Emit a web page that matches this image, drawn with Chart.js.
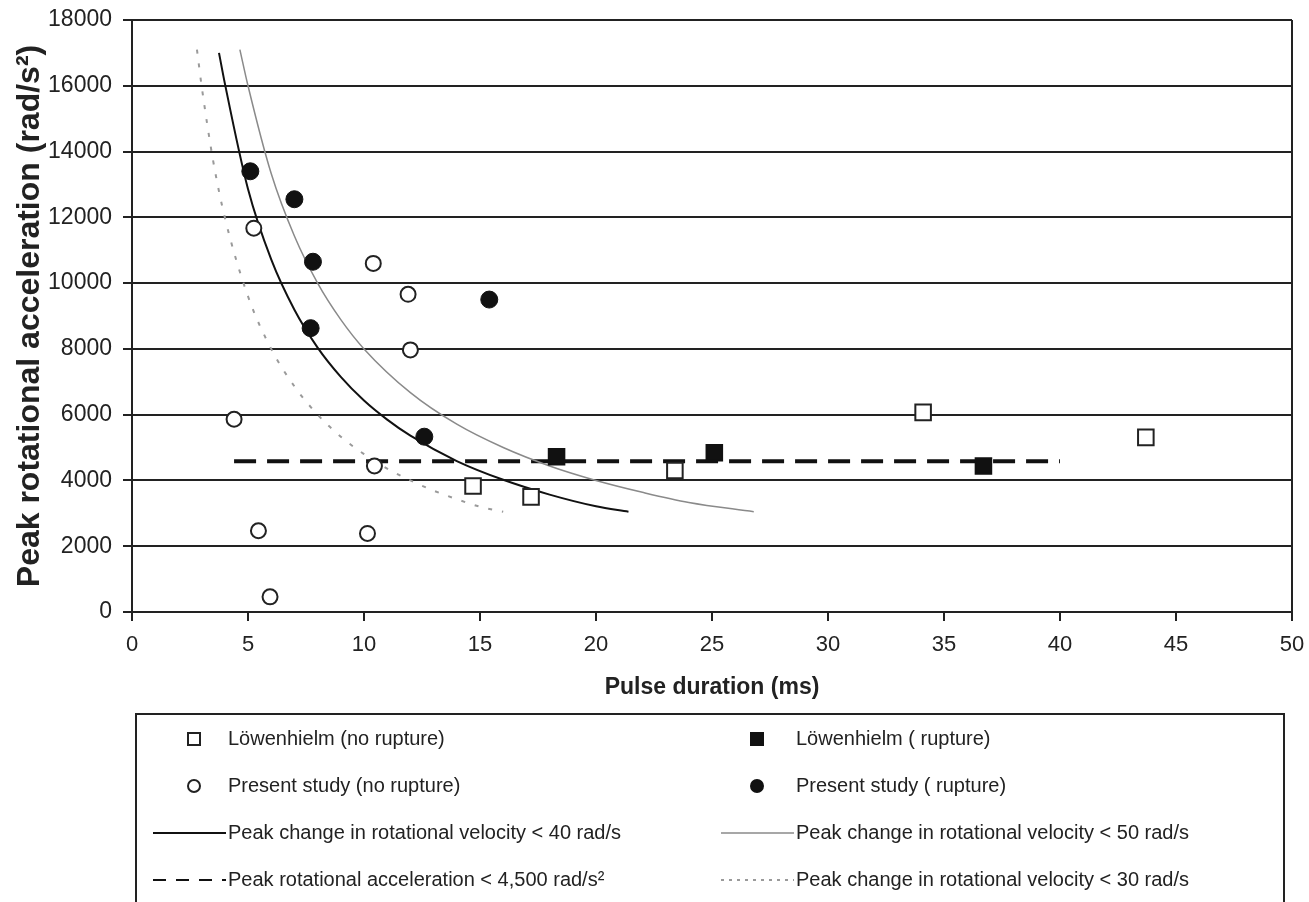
<!DOCTYPE html>
<html>
<head>
<meta charset="utf-8">
<script src="https://cdn.jsdelivr.net/npm/chart.js@4/dist/chart.umd.min.js"></script>
<style>
  body { margin: 0; background: #fff; }
  canvas { display: block; }
</style>
</head>
<body>
<canvas id="chart" width="1309" height="902"></canvas>
<script>
var FONT = '"Liberation Sans", Arial, sans-serif';

// Löwenhielm data (squares)
var lowNoRuptureX = [14.7, 17.2, 23.4, 34.1, 43.7];
var lowNoRuptureY = [3830, 3500, 4300, 6070, 5310];
var lowRuptureX = [18.3, 25.1, 36.7];
var lowRuptureY = [4720, 4840, 4440];

// present study (circles)
var presNoRuptureX = [5.25, 10.4, 11.9, 12.0, 4.4, 10.45, 5.45, 10.15, 5.95];
var presNoRuptureY = [11670, 10600, 9660, 7970, 5860, 4440, 2470, 2390, 460];
var presRuptureX = [5.1, 7.0, 7.8, 7.7, 15.4, 12.6];
var presRuptureY = [13400, 12550, 10650, 8630, 9500, 5330];

// threshold curves
var curve40X = [3.75, 4, 5, 6, 7, 8, 9, 10, 11, 12, 14, 16, 18, 20, 21.4];
var curve40Y = [17000, 16080, 12860, 10720, 9190, 8040, 7150, 6430, 5850, 5360, 4590, 4020, 3570, 3215, 3050];
var curve50X = [4.65, 5, 6, 7, 8, 9, 10, 12, 14, 16, 18, 20, 22, 24, 26.8];
var curve50Y = [17100, 16000, 13330, 11430, 10000, 8890, 8000, 6670, 5710, 5000, 4440, 4000, 3640, 3330, 3050];
var curve30X = [2.8, 3, 3.5, 4, 5, 6, 7, 8, 9, 10, 11, 12, 13, 14, 15, 16];
var curve30Y = [17100, 16000, 13710, 12000, 9600, 8000, 6860, 6000, 5330, 4800, 4360, 4000, 3690, 3430, 3200, 3050];
var accelLimitX = [4.4, 40];
var accelLimitY = [4580, 4580];

function pts(xs, ys) {
  return xs.map(function(x, i) { return {x: x, y: ys[i]}; });
}

var legendBox = {
  id: 'legendBox',
  afterDraw: function(chart) {
    var ctx = chart.ctx;
    var left = 136, top = 714, right = 1284;
    ctx.save();
    ctx.strokeStyle = '#222';
    ctx.lineWidth = 2;
    ctx.strokeRect(left, top, right - left, 260);
    ctx.font = '20px ' + FONT;
    ctx.textBaseline = 'middle';
    chart.data.datasets.forEach(function(ds, i) {
      var col = i % 2, row = Math.floor(i / 2);
      var y = top + 25 + row * 47;
      var markX = col ? 757 : 194;
      var textX = col ? 796 : 228;
      ctx.setLineDash([]);
      if (ds.showLine) {
        ctx.beginPath();
        ctx.strokeStyle = ds.borderColor;
        ctx.lineWidth = Math.min(ds.borderWidth, 2);
        ctx.setLineDash(ds.legendDash || []);
        ctx.moveTo(textX - 75, y);
        ctx.lineTo(textX - 2, y);
        ctx.stroke();
        ctx.setLineDash([]);
      } else {
        ctx.beginPath();
        if (ds.pointStyle === 'rect') ctx.rect(markX - 6, y - 6, 12, 12);
        else ctx.arc(markX, y, 6, 0, Math.PI * 2);
        ctx.fillStyle = ds.backgroundColor;
        ctx.fill();
        ctx.strokeStyle = ds.borderColor;
        ctx.lineWidth = 2;
        ctx.stroke();
      }
      ctx.fillStyle = '#222';
      ctx.fillText(ds.label, textX, y);
    });
    ctx.restore();
  }
};

var ctx = document.getElementById('chart').getContext('2d');
var chart = new Chart(ctx, {
  type: 'scatter',
  plugins: [legendBox],
  data: {
    datasets: [
      {
        label: 'Löwenhielm (no rupture)',
        data: pts(lowNoRuptureX, lowNoRuptureY),
        pointStyle: 'rect', pointRadius: 11, backgroundColor: '#fff', borderColor: '#222', borderWidth: 2
      },
      {
        label: 'Löwenhielm ( rupture)',
        data: pts(lowRuptureX, lowRuptureY),
        pointStyle: 'rect', pointRadius: 11, backgroundColor: '#111', borderColor: '#111', borderWidth: 2
      },
      {
        label: 'Present study (no rupture)',
        data: pts(presNoRuptureX, presNoRuptureY),
        pointStyle: 'circle', pointRadius: 7.5, backgroundColor: '#fff', borderColor: '#222', borderWidth: 2
      },
      {
        label: 'Present study ( rupture)',
        data: pts(presRuptureX, presRuptureY),
        pointStyle: 'circle', pointRadius: 8.5, backgroundColor: '#111', borderColor: '#111', borderWidth: 1
      },
      {
        label: 'Peak change in rotational velocity < 40 rad/s',
        data: pts(curve40X, curve40Y),
        showLine: true, pointRadius: 0, borderColor: '#111', borderWidth: 2,
        cubicInterpolationMode: 'monotone'
      },
      {
        label: 'Peak change in rotational velocity < 50 rad/s',
        data: pts(curve50X, curve50Y),
        showLine: true, pointRadius: 0, borderColor: '#8a8a8a', borderWidth: 1.5,
        cubicInterpolationMode: 'monotone'
      },
      {
        label: 'Peak rotational acceleration < 4,500 rad/s²',
        data: pts(accelLimitX, accelLimitY),
        showLine: true, pointRadius: 0, borderColor: '#111', borderWidth: 4,
        borderDash: [22, 11], legendDash: [13, 10]
      },
      {
        label: 'Peak change in rotational velocity < 30 rad/s',
        data: pts(curve30X, curve30Y),
        showLine: true, pointRadius: 0, borderColor: '#9a9a9a', borderWidth: 2,
        borderDash: [4, 10], legendDash: [3, 5],
        cubicInterpolationMode: 'monotone'
      }
    ]
  },
  options: {
    responsive: false,
    animation: false,
    devicePixelRatio: 1,
    layout: { padding: { top: 20, right: 17, bottom: 197, left: 0 } },
    plugins: {
      legend: { display: false },
      tooltip: { enabled: false }
    },
    scales: {
      x: {
        type: 'linear',
        min: 0, max: 50,
        afterFit: function(s) { s.height = 93; s.paddingLeft = 0; s.paddingRight = 0; },
        ticks: {
          stepSize: 5, padding: 11, color: '#222', font: { family: FONT, size: 22 },
          callback: function(v) { return String(v); }
        },
        grid: {
          drawOnChartArea: true,
          color: function(c) { return c.tick && c.tick.value === 50 ? '#222' : 'rgba(0,0,0,0)'; },
          tickColor: '#222',
          lineWidth: 2,
          tickLength: 9
        },
        border: { display: true, color: '#222', width: 2 },
        title: {
          display: true, text: 'Pulse duration (ms)', color: '#222',
          font: { family: FONT, size: 23, weight: 'bold' }, padding: { top: 4, bottom: 4 }
        }
      },
      y: {
        min: 0, max: 18000,
        afterFit: function(s) { s.width = 132; s.paddingTop = 0; s.paddingBottom = 0; },
        ticks: {
          stepSize: 2000, padding: 11, color: '#222', font: { family: FONT, size: 23 },
          callback: function(v) { return String(v); }
        },
        grid: { color: '#222', lineWidth: 2, tickColor: '#222', tickLength: 9 },
        border: { display: true, color: '#222', width: 2 },
        title: {
          display: true, text: 'Peak rotational acceleration (rad/s²)', color: '#222',
          font: { family: FONT, size: 32, weight: 'bold' }, padding: { top: 11, bottom: 4 }
        }
      }
    }
  }
});
</script>
</body>
</html>
